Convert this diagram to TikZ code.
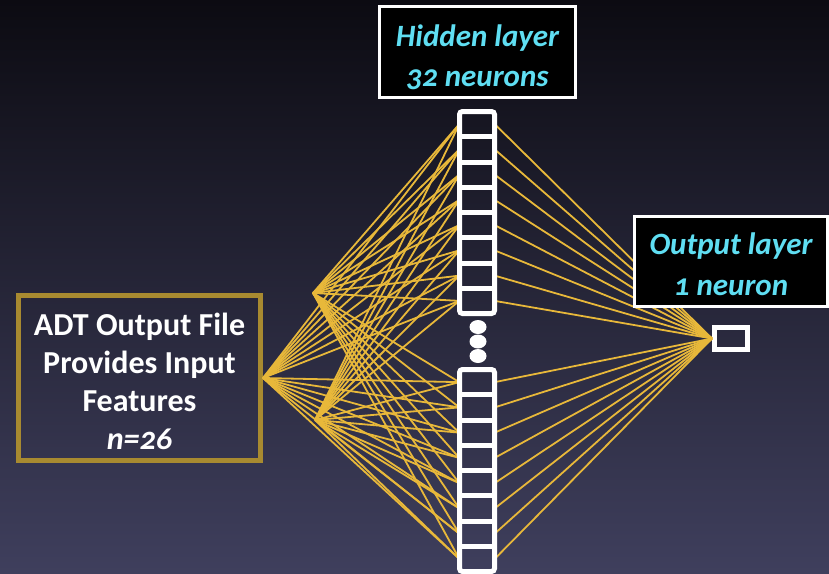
\documentclass[tikz,border=0pt]{standalone}
\usepackage{fontspec}
\setmainfont{Carlito}[Numbers=OldStyle]
\definecolor{conncol}{RGB}{232,184,58}
\definecolor{goldbox}{RGB}{168,138,48}
\definecolor{cyantext}{RGB}{95,222,242}
\definecolor{bgtop}{RGB}{12,11,18}
\definecolor{bgbot}{RGB}{63,63,93}
\begin{document}
\begin{tikzpicture}[x=1pt,y=-1pt,
  conn/.style={draw=conncol,line width=1.8pt},
  cell/.style={draw=none,inner sep=0pt,minimum width=35pt,minimum height=25.25pt},
  frame/.style={draw=white,line width=5pt},
  labelbox/.style={draw=white,line width=3pt,fill=black,inner sep=0pt},
  labeltext/.style={text=cyantext,align=center,inner sep=0pt,
    font=\fontsize{31}{40.5}\selectfont\bfseries\itshape},
]
\useasboundingbox (0,0) rectangle (829,573);
\shade[top color=bgtop,bottom color=bgbot] (0,0) rectangle (829,573);

% hidden cells
\foreach \i in {1,...,8}{
  \node[cell] (t\i) at (477,{111.5+25.25*(\i-0.5)}) {};
  \node[cell] (b\i) at (477,{369.5+25.25*(\i-0.5)}) {};
}
\node[draw=goldbox,line width=5pt,minimum width=242pt,minimum height=165pt,inner sep=0pt] (inbox) at (139.5,378) {};
\node[text=white,align=center,inner sep=0pt,font=\fontsize{32}{38}\selectfont\bfseries]
  (intext) at ([yshift=-3pt]inbox.center) {ADT Output File\\Provides Input\\Features\\\textit{n=26}};
\coordinate (in1) at (inbox.east);
\coordinate (in2) at (313,293);
\coordinate (in3) at (315,420);
\node[draw=white,line width=5pt,minimum width=33pt,minimum height=22pt,inner sep=0pt] (out) at (731,338.5) {};

% connectors
\foreach \s in {in1,in2,in3}{
  \foreach \c in {t1,t2,t3,t4,t5,t6,t7,t8,b1,b2,b3,b4,b5,b6,b7,b8}{
    \draw[conn] (\s) -- (\c.west);
  }
}
\foreach \c in {t1,t2,t3,t4,t5,t6,t7,t8,b1,b2,b3,b4,b5,b6,b7,b8}{
  \draw[conn] (\c.east) -- (out.west);
}

% hidden frames
\draw[frame,rounded corners=3pt] (459.5,111.5) rectangle (494.5,313.5);
\draw[frame,rounded corners=3pt] (459.5,369.5) rectangle (494.5,571.5);
\foreach \i in {1,...,7}{
  \draw[frame] (459.5,{111.5+25.25*\i}) -- (494.5,{111.5+25.25*\i});
  \draw[frame] (459.5,{369.5+25.25*\i}) -- (494.5,{369.5+25.25*\i});
}
\fill[white] (478,327) ellipse (8.5pt and 7pt);
\fill[white] (478,341.5) ellipse (8.5pt and 7pt);
\fill[white] (478,356) ellipse (8.5pt and 7pt);

% labels
\node[labelbox,minimum width=196pt,minimum height=91pt] (hid) at (477.5,52) {};
\node[labeltext] (hidtext) at ([yshift=-5.5pt]hid.center) {Hidden layer\\32 neurons};
\node[labelbox,minimum width=193pt,minimum height=90pt] (outlab) at (731,261.5) {};
\node[labeltext] (outtext) at ([yshift=-2.5pt]outlab.center) {Output layer\\1 neuron};
\end{tikzpicture}
\end{document}
